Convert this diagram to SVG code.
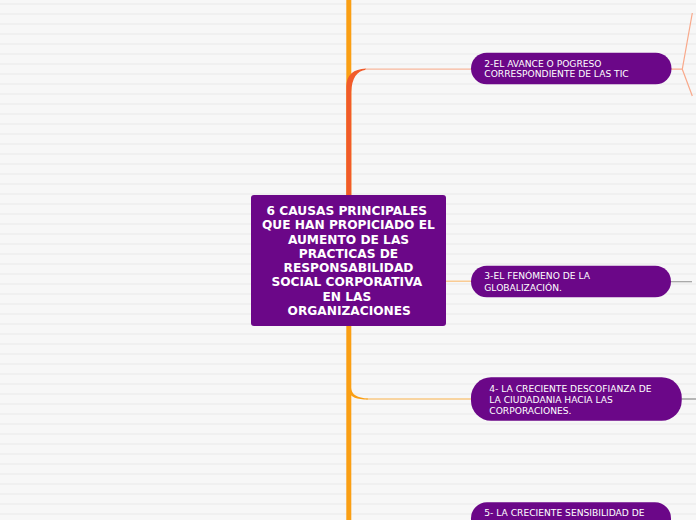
<svg xmlns="http://www.w3.org/2000/svg" width="696" height="520" viewBox="0 0 696 520">
<defs>
<pattern id="stripes" x="0" y="0" width="696" height="10" patternUnits="userSpaceOnUse">
<rect x="0" y="0" width="696" height="10" fill="#f7f7f7"/>
<rect x="0" y="3" width="696" height="2" fill="#f0f0f0"/>
</pattern>
<style>
.node{fill:#6b0788}
.ct{font-family:"DejaVu Sans","Verdana",sans-serif;font-weight:bold;font-size:12.2px;fill:#ffffff;text-anchor:middle}
.nt{font-family:"DejaVu Sans","Verdana",sans-serif;font-size:9.15px;fill:#ffffff}
.thin{fill:none;stroke-width:1.2}
</style>
</defs>
<rect x="0" y="0" width="696" height="520" fill="url(#stripes)"/>
<g id="connectors">
<rect x="346.3" y="0" width="5" height="196" fill="#fa9f14"/>
<path d="M346.3,196 L346.3,86 Q347,69.5 366,68.6 L366,69.8 Q352,71.5 351.3,92 L351.3,196 Z" fill="#f15b2a"/>
<path class="thin" d="M365,69.2 L472,69.2" stroke="#f8b79c"/>
<rect x="346.3" y="325" width="5" height="195" fill="#fa9f14"/>
<path d="M351,388 Q352,398 368,398.4 L368,399.6 Q351,399.5 349,392 Z" fill="#fa9f14"/>
<path class="thin" d="M366,399 L472,399" stroke="#f9b24a"/>
<path class="thin" d="M445,281.2 L472,281.2" stroke="#f9c07a"/>
<path class="thin" d="M670,69.2 L682.3,69.2 L692.3,13 M682.3,69.2 L692.3,96" stroke="#f9a98b"/>
<path class="thin" d="M670,281.7 L692,281.7" stroke="#a0a0a0"/>
<path class="thin" d="M680,399 L696,399" stroke="#8a8a8a"/>
</g>
<g id="central">
<rect class="node" x="251" y="195" width="195" height="131" rx="3"/>
<text class="ct" x="346.8" y="215">6 CAUSAS PRINCIPALES</text>
<text class="ct" x="348.4" y="229.3">QUE HAN PROPICIADO EL</text>
<text class="ct" x="348.5" y="243.6">AUMENTO DE LAS</text>
<text class="ct" x="348.5" y="257.9">PRACTICAS DE</text>
<text class="ct" x="348.5" y="272.1">RESPONSABILIDAD</text>
<text class="ct" x="346.8" y="286.4">SOCIAL CORPORATIVA</text>
<text class="ct" x="346.8" y="300.7">EN LAS</text>
<text class="ct" x="349.2" y="315">ORGANIZACIONES</text>
</g>
<g id="node2">
<rect class="node" x="471" y="52.7" width="200.5" height="31.6" rx="15.8"/>
<text class="nt" x="484.3" y="66.7">2-EL AVANCE O POGRESO</text>
<text class="nt" x="484.3" y="77.4">CORRESPONDIENTE DE LAS TIC</text>
</g>
<g id="node3">
<rect class="node" x="471" y="265.7" width="200" height="31.6" rx="15.8"/>
<text class="nt" x="484.3" y="279.3">3-EL FENÓMENO DE LA</text>
<text class="nt" x="484.3" y="290.7">GLOBALIZACIÓN.</text>
</g>
<g id="node4">
<rect class="node" x="471" y="377.3" width="210.7" height="43.4" rx="20"/>
<text class="nt" x="489.3" y="391.7">4- LA CRECIENTE DESCOFIANZA DE</text>
<text class="nt" x="489.3" y="402.8">LA CIUDADANIA HACIA LAS</text>
<text class="nt" x="489.3" y="414">CORPORACIONES.</text>
</g>
<g id="node5">
<rect class="node" x="471" y="502.3" width="200" height="40" rx="16"/>
<text class="nt" x="484.3" y="516">5- LA CRECIENTE SENSIBILIDAD DE</text>
</g>
</svg>
